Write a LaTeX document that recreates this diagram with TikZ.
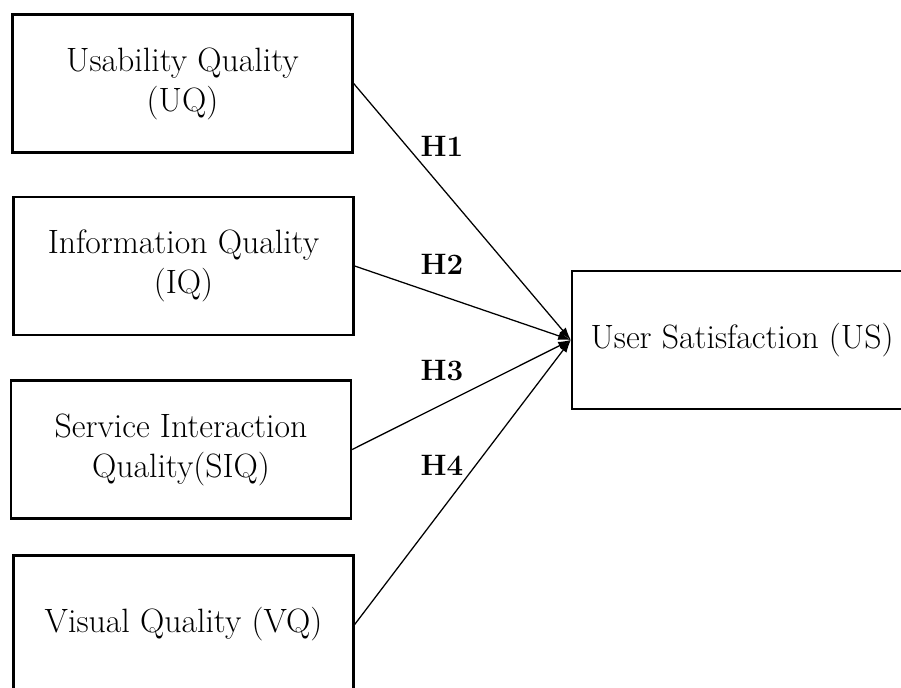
\documentclass[tikz,border=0pt]{standalone}
\usepackage{tikz}
\usetikzlibrary{arrows,arrows.meta}
\tikzset{>={Latex[length=9pt,width=6pt]}}

\begin{document}
\begin{tikzpicture}[x=0.025cm, y=-0.025cm]
                % boxes are placed at pixel positions of the original figure
                \tikzstyle{construct}=[rectangle, draw=black, line width=1.6pt, inner sep=0pt, align=center, minimum width=8.5cm, minimum height=3.45cm, font=\fontsize{24}{28.5}\selectfont]
                \tikzstyle{hyp}=[font=\fontsize{21}{25}\selectfont\bfseries]
                \tikzstyle{every edge}=[black, ->, line width=0.9pt, draw]
                \useasboundingbox (0,0) rectangle (901,688);
                \node[construct] (UQ) at (182.5,83.5) {Usability Quality\\(UQ)};
                \node[construct] (IQ) at (183.5,266) {Information Quality\\(IQ)};
                \node[construct] (SIQ) at (181,449.5) {Service Interaction\\Quality(SIQ)};
                \node[construct] (VQ) at (183.5,624.5) {Visual Quality (VQ)};
                \node[construct] (US) at (742,340) {User Satisfaction (US)};

                % hypotheses
                \draw (UQ.east) edge (US.west);
                \draw (IQ.east) edge (US.west);
                \draw (SIQ.east) edge (US.west);
                \draw (VQ.east) edge (US.west);

                \node[hyp] (H1) at (442,146) {H1};
                \node[hyp] (H2) at (442,264) {H2};
                \node[hyp] (H3) at (442,371) {H3};
                \node[hyp] (H4) at (442,465) {H4};
        \end{tikzpicture}
\end{document}
